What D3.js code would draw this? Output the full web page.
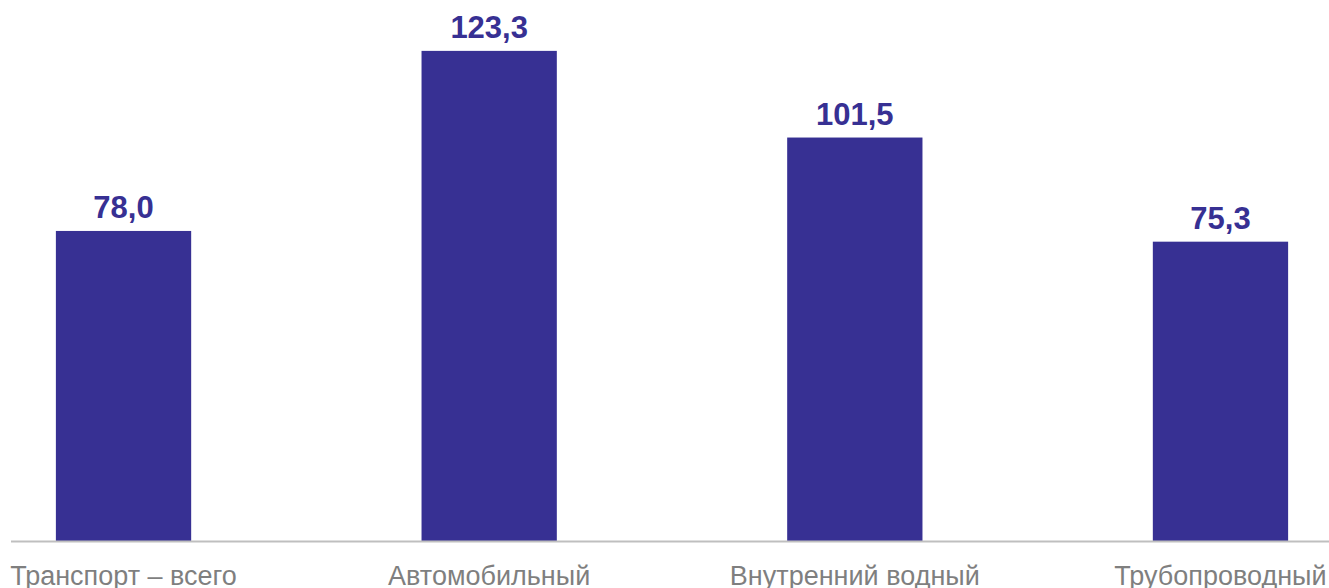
<!DOCTYPE html>
<html>
<head>
<meta charset="utf-8">
<script src="https://cdn.jsdelivr.net/npm/d3@7"></script>
<style>
  body { margin: 0; background: #fff; }
  svg { display: block; }
</style>
</head>
<body>
<div id="chart"></div>
<script>
// data
var categories = ['Транспорт – всего', 'Автомобильный', 'Внутренний водный', 'Трубопроводный'];
var values = [78.0, 123.3, 101.5, 75.3];

var width = 1329, height = 588;
var baseY = 541;

var svg = d3.select('#chart')
  .append('svg')
    .attr('width', width)
    .attr('height', height);

var data = categories.map(function(c, i) { return {cat: c, value: values[i]}; });

// X scale (bars are centred on their labels)
var x = d3.scaleBand()
  .domain(categories)
  .range([-59.3, 1403.3])
  .paddingInner(0.63)
  .paddingOuter(0.315);

// Y scale
var y = d3.scaleLinear()
  .domain([0, 136.1])
  .range([baseY, 0]);

// Bars
svg.selectAll('rect.bar')
  .data(data)
  .enter()
  .append('rect')
    .attr('class', 'bar')
    .attr('x', function(d) { return x(d.cat); })
    .attr('y', function(d) { return y(d.value); })
    .attr('width', x.bandwidth())
    .attr('height', function(d) { return baseY - y(d.value); })
    .attr('fill', '#373093');

// axis line
svg.append('line')
  .attr('x1', 11).attr('x2', width)
  .attr('y1', baseY + 0.5).attr('y2', baseY + 0.5)
  .attr('stroke', '#bfbfbf')
  .attr('stroke-width', 2);

// value labels
svg.selectAll('text.val')
  .data(data)
  .enter()
  .append('text')
    .attr('class', 'val')
    .attr('x', function(d) { return x(d.cat) + x.bandwidth() / 2; })
    .attr('y', function(d) { return y(d.value) - 13; })
    .attr('text-anchor', 'middle')
    .style('font-family', 'Liberation Sans, Arial, sans-serif')
    .style('font-weight', 'bold')
    .style('font-size', '31px')
    .attr('fill', '#373093')
    .text(function(d) { return d3.format('.1f')(d.value).replace('.', ','); });

// category labels
svg.selectAll('text.cat')
  .data(data)
  .enter()
  .append('text')
    .attr('class', 'cat')
    .attr('x', function(d) { return x(d.cat) + x.bandwidth() / 2; })
    .attr('y', 585)
    .attr('text-anchor', 'middle')
    .style('font-family', 'Liberation Sans, Arial, sans-serif')
    .style('font-size', '27px')
    .attr('fill', '#7f7f7f')
    .text(function(d) { return d.cat; });
</script>
</body>
</html>
